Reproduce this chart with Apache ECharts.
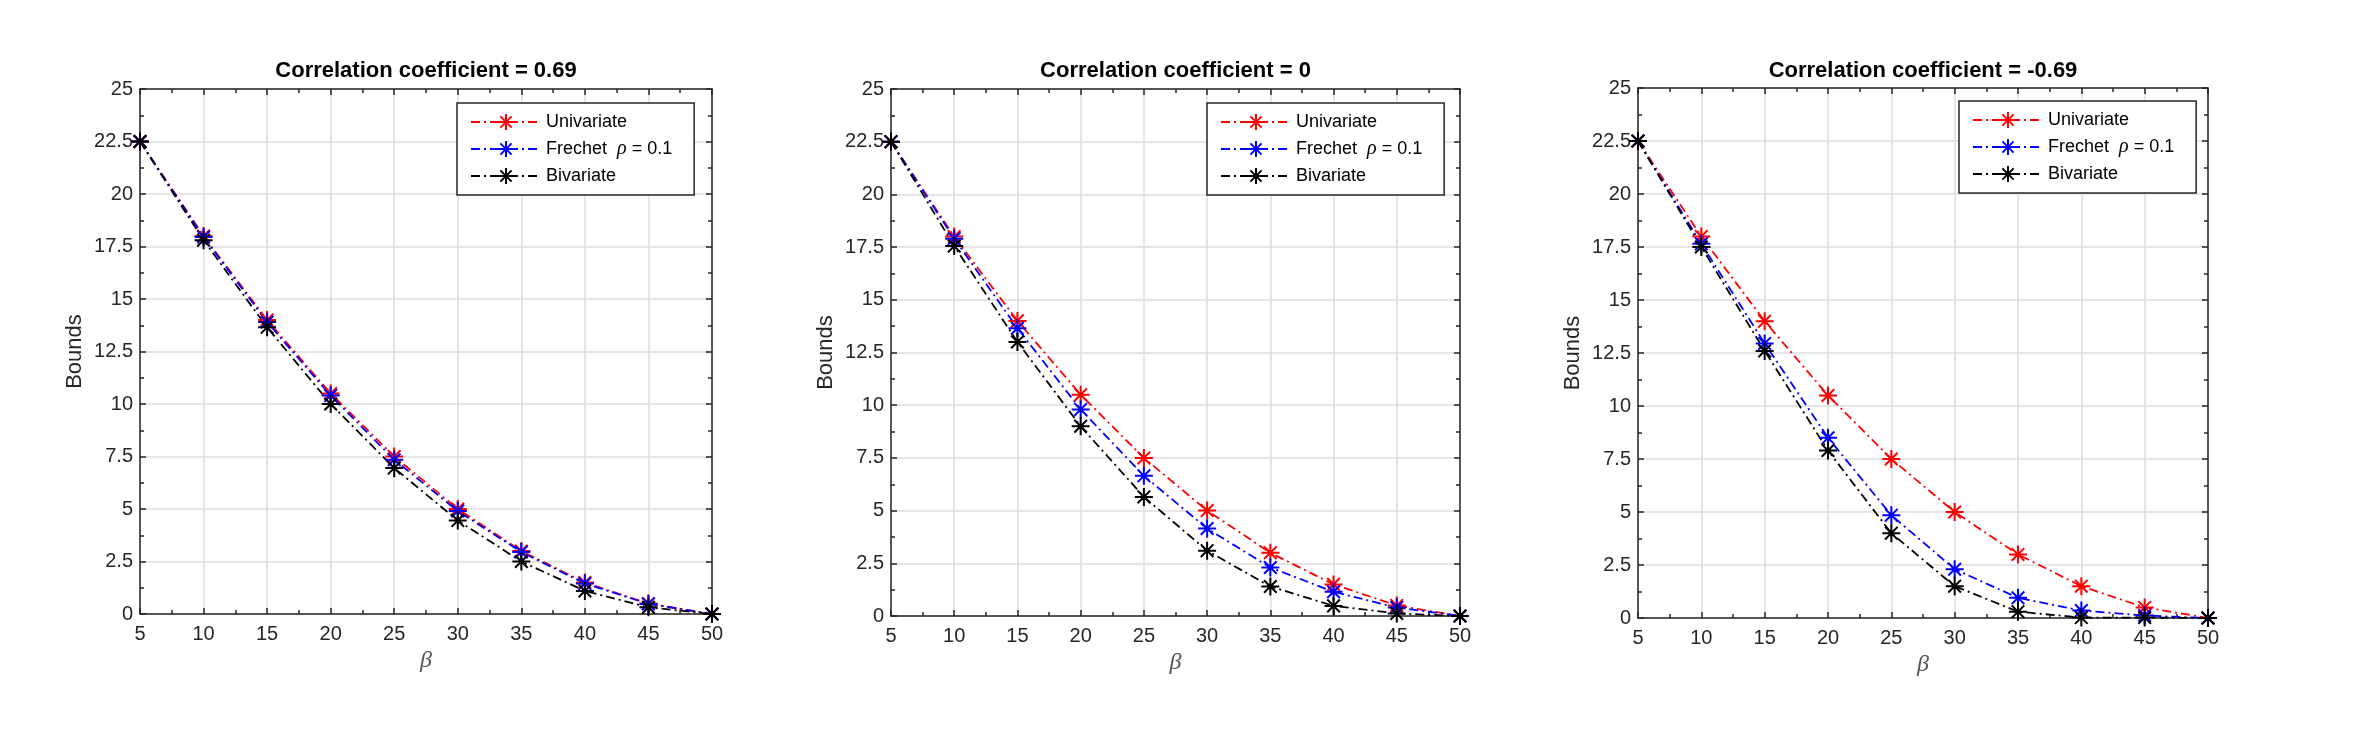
<!DOCTYPE html>
<html>
<head>
<meta charset="utf-8">
<script src="https://cdn.jsdelivr.net/npm/echarts@6/dist/echarts.min.js"></script>
<style>
  html, body { margin: 0; padding: 0; background: #fff; }
  #app { width: 2354px; height: 738px; }
</style>
</head>
<body>
<div id="app"></div>
<script>
// x values (beta)
const beta = [5, 10, 15, 20, 25, 30, 35, 40, 45, 50]

// univariate bound, same in all three panels
const univariate = [22.5, 18, 14, 10.5, 7.5, 5, 3, 1.5, 0.5, 0]

// corr = 0.69
const frechet1 = [22.5, 17.95, 13.9, 10.4, 7.35, 4.9, 2.95, 1.45, 0.48, 0]
const bivariate1 = [22.5, 17.8, 13.65, 10.0, 6.95, 4.45, 2.5, 1.1, 0.32, 0]
// corr = 0
const frechet2 = [22.5, 17.9, 13.65, 9.8, 6.65, 4.15, 2.3, 1.15, 0.4, 0]
const bivariate2 = [22.5, 17.55, 13.0, 9.0, 5.65, 3.1, 1.4, 0.48, 0.12, 0]
// corr = -0.69
const frechet3 = [22.5, 17.65, 12.95, 8.5, 4.85, 2.3, 0.95, 0.35, 0.12, 0]
const bivariate3 = [22.5, 17.5, 12.6, 7.9, 4.0, 1.5, 0.3, 0.02, 0.02, 0]

const titles = ['Correlation coefficient = 0.69', 'Correlation coefficient = 0', 'Correlation coefficient = -0.69']
const panels = [
  { frechet: frechet1, bivariate: bivariate1 },
  { frechet: frechet2, bivariate: bivariate2 },
  { frechet: frechet3, bivariate: bivariate3 },
]

// pixel boxes of the three axes
const boxes = [
  { left: 140, top: 89, width: 572, height: 525, legendLeft: 457, legendTop: 103 },
  { left: 891, top: 89, width: 569, height: 527, legendLeft: 1207, legendTop: 103 },
  { left: 1638, top: 88, width: 570, height: 530, legendLeft: 1959, legendTop: 101 },
]

const FONT = 'Liberation Sans, Arial, Helvetica, sans-serif'
const AXIS = '#262626'
const GRID = '#dcdcdc'
// asterisk marker (plus + x)
const STAR = 'path://M10,0L10,20M0,10L20,10M3,3L17,17M3,17L17,3'
const DASHDOT = [9, 4, 2, 4]

const colors = { Univariate: '#ff0000', Frechet: '#0000ff', Bivariate: '#000000' }

function pairs(ys) {
  return beta.map((b, i) => [b, ys[i]])
}

function lineSeries(name, ys, idx) {
  const c = colors[name]
  return {
    name: name,
    type: 'line',
    xAxisIndex: idx * 2,
    yAxisIndex: idx * 2,
    data: pairs(ys),
    symbol: STAR,
    symbolSize: 18,
    showSymbol: true,
    lineStyle: { color: c, width: 1.8, type: DASHDOT },
    itemStyle: { color: c, borderColor: c, borderWidth: 2 },
    emphasis: { disabled: true },
  }
}

const grid = []
const xAxis = []
const yAxis = []
const title = []
const legend = []
const series = []

boxes.forEach((b, i) => {
  grid.push({ left: b.left, top: b.top, width: b.width, height: b.height, show: false })

  title.push({
    text: titles[i],
    left: b.left + b.width / 2,
    top: 60,
    textAlign: 'center',
    padding: 0,
    textStyle: { fontFamily: FONT, fontWeight: 'bold', fontSize: 22, color: '#000' },
  })

  // bottom x axis
  xAxis.push({
    gridIndex: i,
    type: 'value',
    min: 5,
    max: 50,
    interval: 5,
    position: 'bottom',
    name: 'β',
    nameLocation: 'middle',
    nameGap: 32,
    nameTextStyle: { fontFamily: 'Liberation Serif, DejaVu Serif, serif', fontStyle: 'italic', fontSize: 24, color: '#555' },
    axisLine: { show: true, onZero: false, lineStyle: { color: AXIS, width: 1.5 } },
    axisTick: { show: true, inside: true, length: 6, lineStyle: { color: AXIS, width: 1.5 } },
    minorTick: { show: true, splitNumber: 2, length: 4, lineStyle: { color: AXIS, width: 1.5 } },
    axisLabel: { fontFamily: FONT, fontSize: 20, color: AXIS, margin: 10 },
    splitLine: { show: true, lineStyle: { color: GRID, width: 1.5 } },
  })
  // top x axis (box)
  xAxis.push({
    gridIndex: i,
    type: 'value',
    min: 5,
    max: 50,
    interval: 5,
    position: 'top',
    axisLine: { show: true, onZero: false, lineStyle: { color: AXIS, width: 1.5 } },
    axisTick: { show: true, inside: true, length: 6, lineStyle: { color: AXIS, width: 1.5 } },
    minorTick: { show: true, splitNumber: 2, length: 4, lineStyle: { color: AXIS, width: 1.5 } },
    axisLabel: { show: false },
    splitLine: { show: false },
  })

  // left y axis
  yAxis.push({
    gridIndex: i,
    type: 'value',
    min: 0,
    max: 25,
    interval: 2.5,
    position: 'left',
    name: 'Bounds',
    nameLocation: 'middle',
    nameGap: 54,
    nameTextStyle: { fontFamily: FONT, fontSize: 22, color: AXIS },
    axisLine: { show: true, onZero: false, lineStyle: { color: AXIS, width: 1.5 } },
    axisTick: { show: true, inside: true, length: 6, lineStyle: { color: AXIS, width: 1.5 } },
    minorTick: { show: true, splitNumber: 2, length: 4, lineStyle: { color: AXIS, width: 1.5 } },
    axisLabel: { fontFamily: FONT, fontSize: 20, color: AXIS, margin: 7 },
    splitLine: { show: true, lineStyle: { color: GRID, width: 1.5 } },
  })
  // right y axis (box)
  yAxis.push({
    gridIndex: i,
    type: 'value',
    min: 0,
    max: 25,
    interval: 2.5,
    position: 'right',
    axisLine: { show: true, onZero: false, lineStyle: { color: AXIS, width: 1.5 } },
    axisTick: { show: true, inside: true, length: 6, lineStyle: { color: AXIS, width: 1.5 } },
    minorTick: { show: true, splitNumber: 2, length: 4, lineStyle: { color: AXIS, width: 1.5 } },
    axisLabel: { show: false },
    splitLine: { show: false },
  })

  legend.push({
    orient: 'vertical',
    left: b.legendLeft,
    top: b.legendTop,
    data: ['Univariate', 'Frechet', 'Bivariate'],
    itemWidth: 70,
    itemHeight: 20,
    itemGap: 8,
    padding: [10, 22, 10, 13],
    backgroundColor: '#fff',
    borderColor: AXIS,
    borderWidth: 1.5,
    borderRadius: 0,
    selectedMode: false,
    formatter(name) {
      return name === 'Frechet' ? 'Frechet  {i|ρ} = 0.1' : name
    },
    textStyle: {
      fontFamily: FONT,
      fontSize: 18,
      color: '#000',
      rich: {
        i: { fontFamily: 'Liberation Serif, DejaVu Serif, serif', fontStyle: 'italic', fontSize: 20, color: '#000' },
      },
    },
  })

  series.push(lineSeries('Univariate', univariate, i))
  series.push(lineSeries('Frechet', panels[i].frechet, i))
  series.push(lineSeries('Bivariate', panels[i].bivariate, i))
})

const myChart = echarts.init(document.getElementById('app'))
myChart.setOption({
  backgroundColor: '#fff',
  animation: false,
  title: title,
  legend: legend,
  grid: grid,
  xAxis: xAxis,
  yAxis: yAxis,
  series: series,
})
</script>
</body>
</html>
